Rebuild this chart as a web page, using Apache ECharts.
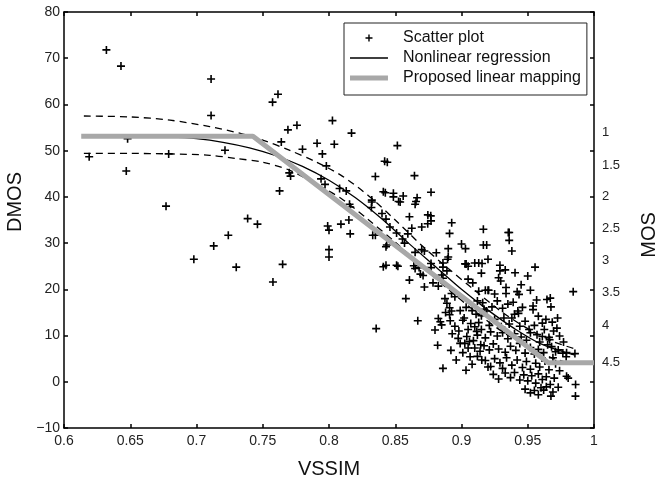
<!DOCTYPE html>
<html><head><meta charset="utf-8">
<script src="https://cdn.jsdelivr.net/npm/echarts@6/dist/echarts.min.js"></script>
<style>html,body{margin:0;padding:0;background:#fff}#c{width:655px;height:483px}</style>
</head><body><div id="c"></div>
<script>
// ---- data ----
var xMin = 0.6, xMax = 1.0, xStep = 0.05;
var yMin = -10, yMax = 80, yStep = 10;
var mosLabels = ['1','1.5','2','2.5','3','3.5','4','4.5'];
var mosPositions = [54.0, 46.9, 40.0, 33.2, 26.2, 19.3, 12.3, 4.1];
var rightTicks = [-10,0,10,20,30,40,50,60,70,80];

var scatterData = [
[0.619,48.7],[0.632,71.8],[0.643,68.3],[0.647,45.6],[0.648,52.6],[0.677,38.0],[0.679,49.3],[0.698,26.5],
[0.711,65.5],[0.711,57.6],[0.713,29.4],[0.7215,50.1],[0.724,31.7],[0.730,24.8],[0.7386,35.3],[0.746,34.1],
[0.7577,21.6],[0.7574,60.5],[0.7615,62.2],[0.7627,41.3],[0.764,51.9],[0.765,25.4],[0.769,54.5],[0.770,45.2],
[0.771,44.5],[0.7758,55.5],[0.780,50.3],[0.791,51.6],[0.794,43.9],[0.795,49.3],[0.797,42.7],[0.798,46.7],
[0.799,33.7],[0.800,32.8],[0.800,28.6],[0.800,27.0],[0.8026,56.5],[0.804,51.4],[0.808,41.8],[0.809,34.1],
[0.813,41.3],[0.815,35.0],[0.8155,38.4],[0.816,37.8],[0.816,32.0],[0.817,53.8],[0.8323,39.3],[0.832,37.7],
[0.833,31.7],[0.835,31.7],[0.8356,11.5],[0.835,44.4],[0.840,36.4],[0.841,41.1],[0.841,24.9],[0.842,47.7],
[0.843,35.2],[0.843,29.2],[0.8436,29.6],[0.844,47.5],[0.843,25.2],[0.846,33.5],[0.8486,40.8],[0.8486,40.0],
[0.851,32.2],[0.851,25.2],[0.8516,51.1],[0.852,25.0],[0.8537,38.9],[0.8555,30.9],[0.856,40.2],[0.857,30.0],
[0.8595,32.0],[0.8607,35.7],[0.8607,22.0],[0.8625,33.2],[0.858,18.0],[0.8645,44.6],[0.864,25.1],[0.865,38.4],
[0.865,28.0],[0.865,24.5],[0.8665,39.8],[0.867,13.2],[0.868,24.7],[0.869,23.3],[0.870,33.5],[0.870,28.6],
[0.871,23.0],[0.872,28.3],[0.872,20.5],[0.8745,34.2],[0.877,34.8],[0.877,41.0],[0.877,24.7],[0.877,25.6],
[0.8768,35.9],[0.8785,21.4],[0.880,11.2],[0.881,27.9],[0.882,7.9],[0.8825,20.7],[0.8825,13.7],[0.884,13.0],
[0.885,12.3],[0.885,23.1],[0.886,22.4],[0.886,24.8],[0.886,25.7],[0.886,2.9],[0.8875,18.0],[0.888,15.0],
[0.889,17.0],[0.889,24.0],[0.8895,26.5],[0.890,28.8],[0.890,27.0],[0.891,32.1],[0.891,16.0],[0.891,14.5],
[0.8915,13.2],[0.8925,15.3],[0.8925,19.1],[0.895,18.4],[0.896,4.7],[0.8975,9.4],[0.899,8.3],[0.899,15.4],
[0.900,29.8],[0.901,13.3],[0.9025,8.3],[0.9027,25.5],[0.903,28.8],[0.9034,2.5],[0.9035,16.1],[0.9035,25.5],
[0.905,25.0],[0.905,22.2],[0.905,11.3],[0.905,7.3],[0.906,8.7],[0.9065,5.4],[0.907,12.6],[0.908,15.4],
[0.9085,21.4],[0.910,11.9],[0.910,7.3],[0.910,25.7],[0.911,14.6],[0.9115,10.9],[0.912,17.5],[0.913,19.6],
[0.913,25.7],[0.9145,8.0],[0.915,11.3],[0.915,14.3],[0.915,23.5],[0.9153,4.7],[0.9155,25.6],[0.9165,33.0],
[0.9165,29.6],[0.916,17.1],[0.917,15.7],[0.918,19.8],[0.919,29.6],[0.919,15.3],[0.920,26.5],[0.920,19.8],
[0.920,3.2],[0.9205,19.8],[0.929,25.2],[0.929,24.0],[0.9296,21.8],[0.932,13.8],[0.933,24.2],[0.9336,20.4],
[0.9336,19.1],[0.936,32.3],[0.936,30.6],[0.938,28.3],[0.938,13.8],[0.940,14.6],[0.9404,23.6],[0.9425,15.3],
[0.943,14.8],[0.9434,18.9],[0.950,22.9],[0.951,11.3],[0.952,10.6],[0.954,16.4],[0.954,15.6],[0.9555,24.8],
[0.9567,17.7],[0.961,12.7],[0.961,9.8],[0.9625,11.3],[0.9637,13.5],[0.9645,17.8],[0.965,8.0],[0.966,9.6],
[0.9665,9.1],[0.967,18.1],[0.9675,16.2],[0.968,7.6],[0.9685,12.9],[0.971,6.5],[0.9725,13.8],[0.973,6.9],
[0.9765,6.2],[0.979,5.4],[0.9793,6.3],[0.9793,1.2],[0.9805,0.8],[0.9843,19.5],[0.9856,6.1],[0.9861,-0.6],
[0.986,-3.1],[0.9675,-3.1],[0.964,-1.1],[0.962,-1.8],
[0.895,12.0],[0.902,13.8],[0.913,12.8],[0.921,12.2],[0.925,13.5],[0.930,11.9],[0.936,12.5],[0.944,12.0],[0.948,13.1],[0.955,12.2],
[0.893,10.4],[0.898,11.0],[0.904,9.8],[0.912,10.1],[0.918,9.5],[0.922,10.8],[0.927,9.9],[0.931,10.6],[0.935,9.3],[0.940,10.4],[0.945,9.7],[0.949,9.0],[0.957,10.2],[0.959,8.6],
[0.892,6.8],[0.901,6.3],[0.909,8.9],[0.914,6.6],[0.917,7.8],[0.921,6.9],[0.924,8.2],[0.928,7.1],[0.933,6.4],[0.937,7.7],[0.941,6.8],[0.944,8.3],[0.948,6.2],[0.952,7.4],[0.955,6.0],[0.958,7.0],[0.962,6.3],[0.969,5.2],
[0.908,3.8],[0.912,5.5],[0.918,4.6],[0.922,3.3],[0.925,5.0],[0.929,4.1],[0.931,2.9],[0.934,5.2],[0.938,3.6],[0.942,4.7],[0.946,3.1],[0.949,4.4],[0.952,2.7],[0.956,4.0],[0.959,3.2],[0.963,4.5],[0.966,2.6],[0.971,3.9],[0.974,2.4],
[0.924,1.6],[0.928,0.6],[0.933,1.9],[0.937,0.9],[0.940,2.0],[0.944,0.4],[0.947,1.5],[0.950,0.2],[0.953,1.3],[0.956,-0.3],[0.958,1.7],[0.961,0.5],[0.964,1.1],[0.967,-0.6],[0.970,0.8],[0.973,-1.2],
[0.948,-1.6],[0.952,-2.4],[0.955,-1.9],[0.958,-2.8],[0.960,-1.3],[0.969,-2.2],
[0.923,16.2],[0.927,17.5],[0.931,15.9],[0.935,16.8],[0.939,17.2],[0.946,16.1],[0.925,19.0],[0.942,19.5],[0.928,22.5],[0.945,21.0],[0.952,19.8],
[0.9695,11.0],[0.974,9.9],[0.977,8.6],[0.972,11.6],[0.958,14.2],
[0.8425,40.9],[0.8525,39.0],[0.8657,39.0],[0.8746,36.1],[0.8926,34.4],[0.9353,32.3],[0.8323,38.9]
];

var nlX = [0.615,0.65,0.68,0.70,0.72,0.74,0.76,0.78,0.80,0.82,0.84,0.86,0.88,0.90,0.92,0.94,0.96,0.985];
var nlY = [53.4,53.3,53.0,52.6,51.8,50.6,48.9,46.6,43.6,39.8,35.2,30.0,25.0,20.0,15.5,11.5,8.2,5.8];
var upX = [0.615,0.65,0.68,0.71,0.735,0.75,0.77,0.79,0.81,0.83,0.85,0.87,0.89,0.91,0.93,0.95,0.97,0.985];
var upY = [57.5,57.3,56.6,55.2,53.6,52.3,50.1,47.6,44.5,40.2,35.0,29.5,24.5,19.8,15.2,11.5,8.6,7.2];
var loX = [0.615,0.65,0.68,0.71,0.73,0.75,0.77,0.79,0.81,0.83,0.85,0.87,0.89,0.91,0.93,0.95,0.97,0.985];
var loY = [49.4,49.4,49.3,49.0,48.3,47.5,45.8,42.8,39.5,35.0,30.2,25.0,20.0,15.3,11.0,7.6,5.0,3.8];
var linX = [0.613,0.7426,0.9655,1.0];
var linY = [53.1,53.1,4.1,4.1];

// ---- build ----
function zip(a,b){return a.map(function(v,i){return [v,b[i]];});}
var FONT = "'Liberation Sans', Arial, sans-serif";
var plus = 'path://M-1,-5H1V-1H5V1H1V5H-1V1H-5V-1H-1Z';
var plusLegend = 'path://M-1,-5H1V-1H5V1H1V5H-1V1H-5V-1H-1Z M-10,-10h0.01v0.01h-0.01Z M10,10h0.01v0.01h-0.01Z';
var thinLegend = 'path://M-19,-0.65H19V0.65H-19Z M-19,-7h0.01v0.01h-0.01Z M19,7h0.01v0.01h-0.01Z';
var thickLegend = 'path://M-19,-2.5H19V2.5H-19Z M-19,-7h0.01v0.01h-0.01Z M19,7h0.01v0.01h-0.01Z';
var axisCol = '#000';

var chart = echarts.init(document.getElementById('c'), null, {renderer:'canvas'});
chart.setOption({
  animation:false,
  backgroundColor:'#fff',
  grid:{left:64, right:61, top:12, bottom:55, containLabel:false, outerBoundsMode:'none'},
  legend:{
    data:[{name:'Scatter plot', icon:plusLegend},{name:'Nonlinear regression', icon:thinLegend},{name:'Proposed linear mapping', icon:thickLegend}],
    orient:'vertical', left:344, top:23, padding:[7,6,9,6],
    itemWidth:38, itemHeight:14, itemGap:4,
    borderColor:'#222', borderWidth:1, backgroundColor:'#fff',
    textStyle:{fontSize:16, color:'#111', fontFamily:FONT, padding:[0,0,0,10]},
    selectedMode:false
  },
  xAxis:[{
    type:'value', min:xMin, max:xMax, interval:xStep, position:'bottom',
    name:'VSSIM', nameLocation:'middle', nameGap:31,
    nameTextStyle:{fontSize:20, color:'#111', fontFamily:FONT},
    axisLine:{onZero:false, lineStyle:{color:axisCol, width:1.5}},
    axisTick:{inside:true, length:4, lineStyle:{color:axisCol, width:1.5}},
    axisLabel:{margin:6, color:'#222', fontSize:14, fontFamily:FONT},
    splitLine:{show:false}
  },{
    type:'value', min:xMin, max:xMax, interval:xStep, position:'top',
    axisLine:{onZero:false, lineStyle:{color:axisCol, width:1.5}},
    axisTick:{inside:true, length:4, lineStyle:{color:axisCol, width:1.5}},
    axisLabel:{show:false}, splitLine:{show:false}
  }],
  yAxis:[{
    type:'value', min:yMin, max:yMax, interval:yStep, position:'left',
    name:'DMOS', nameLocation:'middle', nameGap:33, nameRotate:90,
    nameTextStyle:{fontSize:20, color:'#111', fontFamily:FONT, padding:[0,0,0,36]},
    axisLine:{show:true, onZero:false, lineStyle:{color:axisCol, width:1.5}},
    axisTick:{show:true, inside:true, length:4, lineStyle:{color:axisCol, width:1.5}},
    axisLabel:{margin:4, color:'#222', fontSize:14, fontFamily:FONT,
      formatter:function(v){return v<0 ? '\u2212'+(-v) : String(v);}},
    splitLine:{show:false}
  },{
    type:'value', min:yMin, max:yMax, interval:yStep, position:'right',
    name:'MOS', nameLocation:'middle', nameGap:45, nameRotate:90,
    nameTextStyle:{fontSize:20, color:'#111', fontFamily:FONT, padding:[0,30,0,0]},
    axisLine:{show:true, onZero:false, lineStyle:{color:axisCol, width:1.5}},
    axisTick:{show:true, inside:true, length:4, customValues:rightTicks, lineStyle:{color:axisCol, width:1.5}},
    axisLabel:{margin:8, color:'#222', fontSize:13, fontFamily:FONT, customValues:mosPositions,
      formatter:function(v){var i=mosPositions.indexOf(v); return i>=0?mosLabels[i]:'';}},
    splitLine:{show:false}
  }],
  series:[{
    name:'Scatter plot', type:'scatter', data:scatterData, symbol:plus, symbolSize:8,
    itemStyle:{color:'#000', opacity:1}, z:2, silent:true
  },{
    name:'Nonlinear regression', type:'line', data:zip(nlX,nlY), symbol:'none', showSymbol:false, smooth:0.3,
    itemStyle:{color:'#000'}, lineStyle:{color:'#000', width:1.3}, z:3, silent:true
  },{
    name:'upper', type:'line', data:zip(upX,upY), symbol:'none', showSymbol:false, smooth:0.3,
    itemStyle:{color:'#000'}, lineStyle:{color:'#000', width:1.3, type:[7,5]}, z:3, silent:true
  },{
    name:'lower', type:'line', data:zip(loX,loY), symbol:'none', showSymbol:false, smooth:0.3,
    itemStyle:{color:'#000'}, lineStyle:{color:'#000', width:1.3, type:[7,5]}, z:3, silent:true
  },{
    name:'Proposed linear mapping', type:'line', data:zip(linX,linY), symbol:'none', showSymbol:false,
    itemStyle:{color:'#a8a8a8'}, lineStyle:{color:'#a8a8a8', width:5}, z:4, silent:true
  }]
});
</script></body></html>
